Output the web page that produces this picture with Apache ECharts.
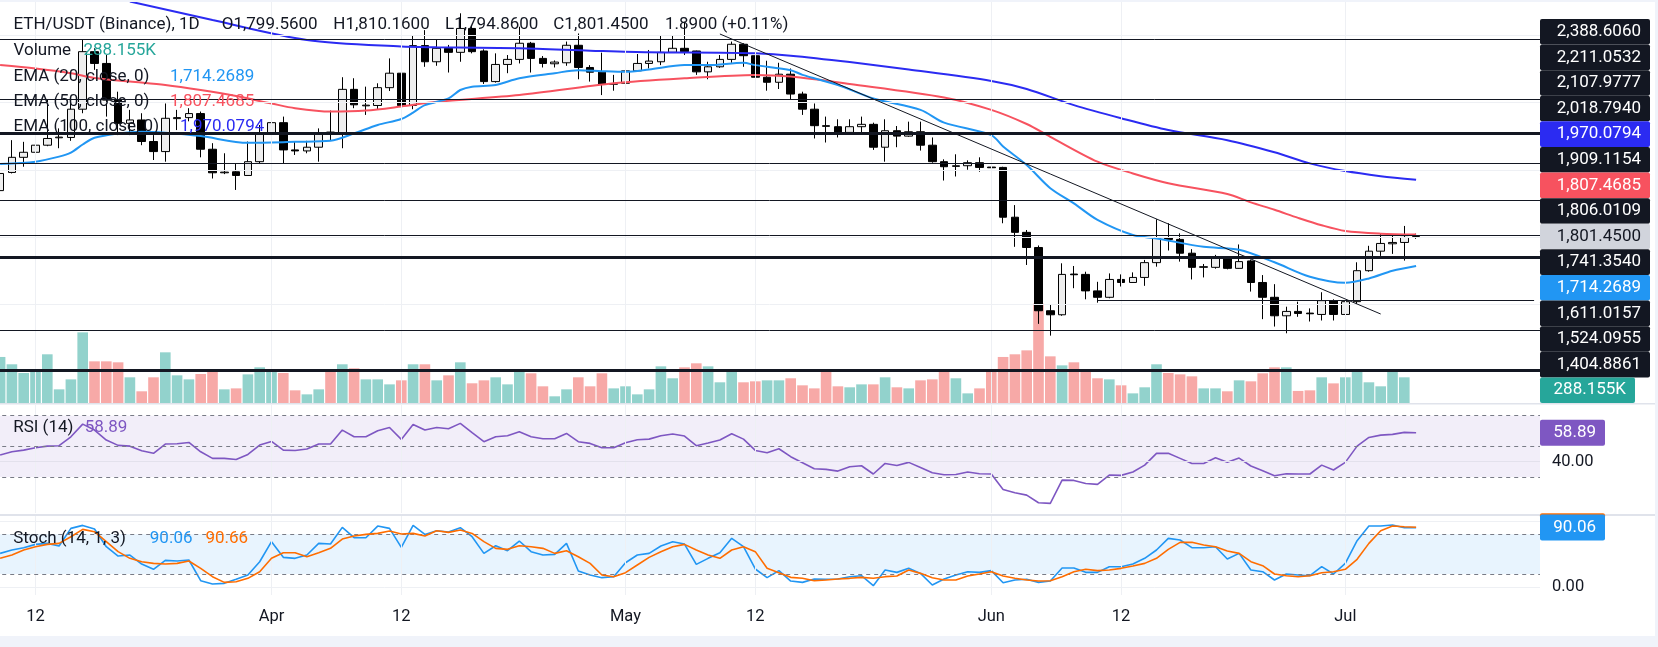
<!DOCTYPE html>
<html>
<head>
<meta charset="utf-8">
<script src="https://cdn.jsdelivr.net/npm/echarts@6/dist/echarts.min.js"></script>
<style>
  html, body { margin: 0; padding: 0; background: #ffffff; }
  #main { width: 1658px; height: 647px; }
</style>
</head>
<body>
<div id="main"></div>
<script>
// ---- data (ETH/USDT 1D, Binance) ----
var startDate = [2025, 2, 9];      // Mar 9
var categoryCount = 131;           // 121 candles + empty space on the right
var tickDates = ['2025-03-12', '2025-04-01', '2025-04-12', '2025-05-01', '2025-05-12', '2025-06-01', '2025-06-12', '2025-07-01'];
var tickTexts = ['12', 'Apr', '12', 'May', '12', 'Jun', '12', 'Jul'];

var open = [1938,1992,2037,2052,2073,2095,2096,2180,2351,2316, 2207,2138,2148,2084,2054,2152,2155,2167,2061,1991,
  1994,1983,2024,2106,2140,2059,2056,2067,2112,2108, 2239,2190,2191,2244,2287,2191,2369,2321,2361,2349,
  2420,2353,2262,2313,2328,2376,2331,2315,2318,2370, 2304,2290,2254,2257,2294,2316,2321,2349,2361,2353,
  2291,2306,2328,2373,2339,2275,2260,2284,2225,2180, 2131,2128,2111,2128,2135,2067,2116,2100,2113,2073,
  2024,2010,2012,2021,2008,2007,1859,1814,1769,1581, 1569,1690,1689,1640,1621,1674,1665,1680,1724,1797,
  1793,1752,1710,1710,1740,1707,1729,1665,1621,1566, 1579,1574,1570,1611,1570,1608,1700,1758,1780,1784,
  1799.56];
var high = [1995,2088,2083,2098,2209,2123,2207,2386,2361,2341, 2232,2178,2168,2103,2197,2178,2183,2173,2079,2049,
  2017,2084,2133,2168,2158,2084,2086,2123,2176,2275, 2272,2247,2257,2331,2292,2398,2415,2386,2371,2465,
  2430,2358,2346,2341,2425,2380,2338,2325,2381,2405, 2311,2348,2282,2326,2344,2356,2400,2400,2440,2354,
  2321,2341,2381,2376,2341,2324,2318,2301,2232,2197, 2158,2150,2150,2158,2140,2150,2130,2143,2143,2096,
  2031,2046,2028,2037,2021,2009,1895,1821,1775,1601, 1722,1714,1697,1667,1692,1689,1695,1732,1853,1841,
  1811,1764,1720,1747,1742,1778,1733,1687,1660,1593, 1608,1588,1636,1615,1646,1725,1774,1809,1809,1833,
  1810.16];
var low = [1930,1989,2009,2021,2070,2064,2086,2168,2297,2158, 2103,2103,2073,2029,2024,2118,2144,2037,1974,1987,
  1940,1983,2017,2084,2019,2044,2049,2024,2088,2064, 2183,2163,2180,2234,2180,2180,2306,2309,2289,2321,
  2346,2255,2259,2287,2316,2289,2304,2304,2309,2269, 2262,2222,2235,2256,2293,2301,2311,2347,2341,2282,
  2269,2303,2318,2306,2259,2235,2240,2209,2163,2093, 2081,2096,2106,2108,2059,2024,2067,2098,2057,2021,
  1968,1980,2000,1994,1960,1841,1771,1717,1542,1507, 1566,1648,1615,1605,1618,1653,1664,1655,1712,1760,
  1727,1674,1680,1706,1704,1706,1638,1556,1534,1514, 1563,1549,1552,1552,1554,1601,1697,1744,1750,1730,
  1794.86];
var close = [1989,2037,2052,2073,2093,2097,2180,2351,2316,2207, 2138,2148,2084,2054,2153,2155,2167,2061,1991,1993,
  1983,2024,2108,2140,2059,2056,2067,2108,2106,2239, 2193,2192,2244,2287,2191,2369,2321,2361,2349,2420,
  2351,2262,2313,2328,2376,2331,2316,2320,2370,2304, 2290,2254,2256,2294,2316,2323,2349,2361,2351,2291,
  2306,2328,2373,2339,2275,2260,2284,2225,2180,2131, 2129,2111,2128,2135,2067,2116,2100,2113,2073,2024,
  2009,2012,2021,2007,2006,1859,1814,1769,1581,1569, 1689,1688,1640,1621,1674,1665,1680,1724,1796,1793,
  1752,1710,1712,1740,1707,1727,1665,1621,1566,1579, 1573,1572,1611,1570,1608,1700,1758,1781,1784,1799,
  1801.45];

// volume in thousands, and whether the bar is drawn green (1) or red (0)
var volume = [516,434,336,377,546,153,265,792,467,467, 456,288,131,288,568,310,265,325,377,153,
  164,321,400,377,336,142,97,153,348,434, 389,265,265,209,254,434,434,254,310,456,
  221,254,288,209,355,333,187,75,153,288, 187,333,164,187,97,153,411,277,400,445,
  411,232,377,232,243,254,254,277,198,164, 366,187,176,209,209,288,176,164,254,265,
  348,277,108,164,355,516,546,590,1114,523, 422,456,355,277,265,198,108,176,434,336,
  321,299,164,164,131,254,243,333,400,400, 135,142,288,220,288,355,232,187,377,288,
  null];
var volumeUp = [1,1,1,1,1,1,1,1,0,0, 0,1,0,0,1,1,1,0,0,1, 0,1,1,1,0,0,1,1,0,1,
  0,1,1,1,0,1,0,1,0,1, 0,0,1,1,1,0,0,1,1,0, 0,0,1,1,1,1,1,1,0,0,
  1,1,1,0,0,1,1,0,0,0, 0,0,1,1,0,1,0,1,0,0, 0,1,1,0,0,0,0,0,0,0,
  1,0,0,0,1,0,1,1,1,0, 0,0,1,1,0,1,0,0,0,1, 0,0,1,0,1,1,1,1,1,1, 1];
var lastVolume = 288.155;
var lastVolumeText = '288.155K';

var ema20 = [[0,2017],[3,2024],[5,2039],[6,2051],[7,2075],[8,2095],[10,2108],[12,2113],[14,2110],[17,2100],
  [21,2080],[25,2083],[28,2086],[30,2108],[32,2133],[34,2151],[35,2170],[36,2192],[38,2212],[39,2237],
  [40,2247],[42,2252],[44,2272],[47,2287],[49,2296],[51,2293],[53,2291],[55,2298],[58,2311],[60,2311],
  [63,2318],[64,2311],[67,2296],[68,2282],[71,2252],[74,2212],[78,2178],[80,2140],[84,2103],[85,2069],
  [87,2014],[89,1945],[91,1900],[93,1851],[96,1806],[98,1796],[102,1771],[105,1762],[108,1725],[111,1682],
  [114,1664],[116,1677],[118,1700],[120,1714.2689]];
var ema50 = [[0,2311],[3,2301],[6,2287],[8,2273],[11,2262],[14,2252],[17,2237],[20,2219],[23,2197],[25,2183],
  [28,2173],[31,2176],[34,2188],[37,2202],[44,2222],[52,2257],[58,2272],[64,2282],[67,2277],
  [72,2255],[80,2215],[84,2178],[87,2136],[89,2098],[93,2024],[96,1989],[99,1960],[104,1928],[106,1903],
  [108,1881],[110,1857],[112,1835],[114,1818],[117,1810],[120,1807.4685]];
var ema100 = [[11,2500],[18,2445],[26,2386],[34,2366],[37,2364],[44,2361],[50,2354],[55,2349],[61,2348],[64,2346],[67,2339],
  [72,2320],[77,2298],[84,2264],[87,2240],[91,2192],[95,2153],[99,2118],[104,2088],[108,2052],[111,2019],
  [114,1996],[117,1981],[120,1970.0794]];

var trendLine = [[61, 2403.5], [117, 1571.3]];
var levels = [2388.6060, 2211.0532, 2107.9777, 2018.7940, 1909.1154, 1806.0109, 1741.3540, 1524.0955, 1404.8861];
var thickLevels = [2107.9777, 1741.3540, 1404.8861];
var rayLevel = 1611.0157, rayStart = 93;
var priceGrid = [1400, 1600, 1800, 2000, 2200, 2400];

var rsi = [44.3,46.4,47.5,49.1,50.1,50.4,56.2,64.5,60.6,54.1, 50.6,50.1,47.1,45.4,51.5,51.7,52.5,46.4,42.1,42.1,
  41.4,44.7,50.8,53.2,47.5,47.3,48.2,51.5,51.5,60.6, 56.2,56.2,60.2,62.3,54.5,64.3,60.6,62.3,61.5,65.0,
  58.9,53.0,56.2,56.9,59.5,56.2,54.9,54.9,58.4,53.0, 51.9,49.1,49.1,52.3,54.3,54.7,56.9,58.0,56.7,50.4,
  52.1,54.1,58.2,54.7,47.3,45.8,48.4,43.2,39.3,35.3, 34.9,33.8,36.6,37.3,31.9,38.8,37.5,39.5,36.2,32.7,
  31.4,31.6,33.2,32.1,31.9,21.8,19.6,18.1,13.1,12.7, 27.9,27.7,25.7,25.1,31.2,31.0,33.2,37.7,45.4,45.4,
  42.1,38.8,38.8,42.5,39.5,42.3,37.1,34.0,30.8,32.1, 31.9,31.9,37.7,34.5,39.5,50.1,55.8,57.3,57.8,59.1,
  58.89];
var stochK = [51.1,56.2,59.7,64.7,66.2,62.2,88.9,93.4,87.9,61.2, 47.1,48.6,35.0,27.0,40.6,39.6,41.1,9.8,4.8,5.8,
  11.9,18.4,38.5,68.8,45.1,43.6,48.6,66.2,65.2,90.4, 74.8,74.8,92.4,88.9,60.2,93.4,79.8,85.4,83.4,89.9,
  76.3,51.1,62.7,55.2,69.8,53.7,48.6,49.6,66.2,24.4, 18.4,14.4,15.9,37.0,48.6,51.1,62.2,68.8,65.2,34.5,
  43.6,52.1,73.8,61.2,27.5,14.4,25.0,9.3,7.3,12.4, 12.0,12.4,15.9,17.4,2.3,26.0,22.4,28.5,20.9,3.3,
  12.4,18.4,23.4,22.4,25.0,6.8,10.9,11.9,7.3,9.3, 29.0,29.0,22.4,22.4,31.0,31.0,35.0,43.6,56.2,73.8,
  71.3,59.7,59.7,61.2,42.6,51.1,26.0,23.4,10.9,19.9, 18.4,17.4,31.0,19.9,36.0,70.3,92.4,92.4,93.9,89.9,
  90.06];
var stochD = [43.6,48.6,56.2,61.2,64.7,66.2,76.3,87.4,83.9,68.8, 53.7,43.6,38.5,36.0,35.0,36.0,39.6,28.5,15.9,7.3,
  8.3,13.4,23.4,43.6,52.1,52.1,46.1,52.1,58.7,72.8, 77.3,79.8,81.3,84.9,80.3,81.3,77.3,85.4,82.9,86.4,
  81.3,68.8,58.7,57.2,62.7,61.2,58.7,51.1,55.2,46.1, 36.0,18.4,15.9,21.9,33.5,45.1,53.7,61.2,64.7,56.2,
  48.6,43.6,56.2,61.2,53.7,28.5,21.9,14.9,13.4,9.8, 10.9,12.4,13.4,14.9,13.4,15.9,16.9,26.0,20.9,14.4,
  10.9,10.9,16.9,19.9,23.4,16.9,13.4,10.9,9.3,9.8, 15.9,23.4,27.0,25.0,26.0,28.5,32.0,36.0,43.6,57.2,
  67.8,67.8,63.7,61.2,54.7,51.1,38.5,32.5,19.9,17.4, 15.9,17.4,21.9,23.4,27.0,42.1,66.2,85.4,92.4,91.4,
  90.66];

// ---- build ----
var dates = [];
for (var i = 0; i < categoryCount; i++) {
  var d = new Date(Date.UTC(startDate[0], startDate[1], startDate[2] + i));
  dates.push(d.toISOString().slice(0, 10));
}
var FONT = 'Roboto, "Noto Sans", sans-serif';
var TEXT = '#131722';
var GRIDC = '#eef0f4';
var UP_VOL = 'rgba(38,166,154,0.5)', DOWN_VOL = 'rgba(239,83,80,0.5)';
var C20 = '#2196f3', C50 = '#f7525f', C100 = '#2b2bf2', CRSI = '#7e57c2', CK = '#2196f3', CD = '#ff6d00';

var candleData = open.map(function (o, i) { return [o, close[i], low[i], high[i]]; });
var volData = volume.map(function (v, i) {
  return { value: v, itemStyle: { color: volumeUp[i] ? UP_VOL : DOWN_VOL } };
});

function vGrid() {
  return tickDates.map(function (t) { return { xAxis: t, lineStyle: { color: GRIDC, width: 1, type: 'solid' } }; });
}
function hLine(v, color, width, type) {
  return { yAxis: v, lineStyle: { color: color, width: width, type: type } };
}

var mainLines = []
  .concat(priceGrid.map(function (v) { return hLine(v, GRIDC, 1, 'solid'); }))
  .concat(vGrid())
  .concat(levels.map(function (v) {
    return hLine(v, '#131722', thickLevels.indexOf(v) >= 0 ? 3 : 1, 'solid');
  }));
mainLines.push([
  { coord: [rayStart, rayLevel], lineStyle: { color: '#131722', width: 1, type: 'solid' } },
  { coord: [categoryCount - 1, rayLevel] }
]);

var G = { left: -5.8, width: 1545.8 };
var option = {
  animation: false,
  backgroundColor: '#ffffff',
  grid: [
    { left: G.left, width: G.width, top: 2, height: 401, outerBoundsMode: 'none' },
    { left: G.left, width: G.width, top: 405, height: 108, outerBoundsMode: 'none' },
    { left: G.left, width: G.width, top: 516, height: 79, outerBoundsMode: 'none' }
  ],
  xAxis: [0, 1, 2].map(function (g) {
    return {
      type: 'category', gridIndex: g, data: dates, boundaryGap: true,
      axisLine: { show: false }, axisTick: { show: false }, splitLine: { show: false },
      axisLabel: g < 2 ? { show: false } : {
        show: true, margin: 13, color: TEXT, fontSize: 16.5, fontFamily: FONT,
        interval: function (idx, val) { return tickDates.indexOf(val) >= 0; },
        formatter: function (val) { var k = tickDates.indexOf(val); return k >= 0 ? tickTexts[k] : ''; }
      }
    };
  }),
  yAxis: [
    { type: 'value', gridIndex: 0, min: 1306.8, max: 2498.6, show: false },
    { type: 'value', gridIndex: 0, min: 0, max: 4495, show: false },
    { type: 'value', gridIndex: 1, min: 6.4, max: 77.0, show: false },
    { type: 'value', gridIndex: 2, min: -11.8, max: 107.6, show: false }
  ],
  series: [
    {
      name: 'levels', type: 'line', xAxisIndex: 0, yAxisIndex: 0, data: [], z: 1, silent: true,
      markLine: {
        symbol: ['none', 'none'], silent: true, animation: false, label: { show: false },
        lineStyle: { color: '#131722', width: 1, type: 'solid' },
        data: mainLines
      }
    },
    {
      name: 'Volume', type: 'bar', xAxisIndex: 0, yAxisIndex: 1, data: volData, barWidth: '90%', z: 2, silent: true
    },
    {
      name: 'ETH/USDT', type: 'candlestick', xAxisIndex: 0, yAxisIndex: 0, data: candleData, barWidth: 8, z: 3,
      itemStyle: { color: '#eeeeee', color0: '#000000', borderColor: '#000000', borderColor0: '#000000', borderWidth: 1 }
    },
    { name: 'EMA100', type: 'line', xAxisIndex: 0, yAxisIndex: 0, data: ema100, showSymbol: false, smooth: 0.3, z: 4,
      lineStyle: { color: C100, width: 2 } },
    { name: 'EMA50', type: 'line', xAxisIndex: 0, yAxisIndex: 0, data: ema50, showSymbol: false, smooth: 0.3, z: 4,
      lineStyle: { color: C50, width: 2 } },
    { name: 'EMA20', type: 'line', xAxisIndex: 0, yAxisIndex: 0, data: ema20, showSymbol: false, smooth: 0.3, z: 4,
      lineStyle: { color: C20, width: 2 } },
    { name: 'trend', type: 'line', xAxisIndex: 0, yAxisIndex: 0, data: trendLine, showSymbol: false, z: 5,
      lineStyle: { color: '#131722', width: 1 } },
    {
      name: 'RSI', type: 'line', xAxisIndex: 1, yAxisIndex: 2, data: rsi, showSymbol: false, z: 4,
      lineStyle: { color: CRSI, width: 1.6 },
      markArea: { silent: true, itemStyle: { color: 'rgba(126,87,194,0.1)' }, data: [[{ yAxis: 30 }, { yAxis: 70 }]] },
      markLine: {
        symbol: ['none', 'none'], silent: true, animation: false, label: { show: false },
        data: vGrid().concat([
          hLine(70, '#787b86', 1, [4, 4]), hLine(50, '#787b86', 1, [4, 4]), hLine(30, '#787b86', 1, [4, 4]),
          { yAxis: 40, lineStyle: { color: '#e3e1ec', width: 1, type: 'solid' },
            label: { show: true, position: 'end', distance: 12, formatter: '40.00', color: TEXT, fontSize: 16.5, fontFamily: FONT } }
        ])
      }
    },
    {
      name: '%K', type: 'line', xAxisIndex: 2, yAxisIndex: 3, data: stochK, showSymbol: false, z: 4,
      lineStyle: { color: CK, width: 1.6 },
      markArea: { silent: true, itemStyle: { color: 'rgba(33,150,243,0.1)' }, data: [[{ yAxis: 20 }, { yAxis: 80 }]] },
      markLine: {
        symbol: ['none', 'none'], silent: true, animation: false, label: { show: false },
        data: vGrid().concat([
          hLine(80, '#787b86', 1, [4, 4]), hLine(20, '#787b86', 1, [4, 4]),
          hLine(100, GRIDC, 1, 'solid'),
          { yAxis: 0, lineStyle: { color: GRIDC, width: 1, type: 'solid' },
            label: { show: true, position: 'end', distance: 12, formatter: '0.00', color: TEXT, fontSize: 16.5, fontFamily: FONT } }
        ])
      }
    },
    { name: '%D', type: 'line', xAxisIndex: 2, yAxisIndex: 3, data: stochD, showSymbol: false, z: 5,
      lineStyle: { color: CD, width: 1.6 } }
  ]
};

var chart = echarts.init(document.getElementById('main'));
chart.setOption(option);

// ---- texts, labels and frame ----
function fmt(v, d) { return v.toLocaleString('en-US', { minimumFractionDigits: d, maximumFractionDigits: d }); }
function txt(x, y, s, color, size, align) {
  return { type: 'text', x: x, y: y, z: 100, silent: true,
    style: { text: s, fill: color, font: (size || 17) + 'px ' + FONT, align: align || 'left', verticalAlign: 'middle' } };
}
function box(x, yc, w, h, bg, fg, s, r) {
  return [
    { type: 'rect', z: 100, silent: true, shape: { x: x, y: yc - h / 2, width: w, height: h, r: r || 0 }, style: { fill: bg } },
    { type: 'text', z: 101, silent: true, x: x + w - 9, y: yc,
      style: { text: s, fill: fg, font: '17px ' + FONT, align: 'right', verticalAlign: 'middle' } }
  ];
}

var last = open.length - 1;
var H = 25.6;
var tags = levels.concat([rayLevel]).map(function (v) {
  return { axis: 0, value: v, text: fmt(v, 4), bg: '#131722', fg: '#ffffff', w: 110 };
});
tags.push({ axis: 0, value: ema100[ema100.length - 1][1], text: fmt(ema100[ema100.length - 1][1], 4), bg: C100, fg: '#ffffff', w: 110 });
tags.push({ axis: 0, value: ema50[ema50.length - 1][1], text: fmt(ema50[ema50.length - 1][1], 4), bg: C50, fg: '#ffffff', w: 110 });
tags.push({ axis: 0, value: ema20[ema20.length - 1][1], text: fmt(ema20[ema20.length - 1][1], 4), bg: C20, fg: '#ffffff', w: 110 });
tags.push({ axis: 0, value: close[last], text: fmt(close[last], 4), bg: '#d1d4dc', fg: '#131722', w: 110, anchor: true });
tags.push({ axis: 1, value: lastVolume, text: lastVolumeText, bg: '#26a69a', fg: '#ffffff', w: 95 });
tags.forEach(function (t) { t.y = chart.convertToPixel({ yAxisIndex: t.axis }, t.value); });
tags.sort(function (a, b) { return a.y - b.y; });
var k = tags.findIndex(function (t) { return t.anchor; });
for (var j = k - 1; j >= 0; j--) tags[j].y = Math.min(tags[j].y, tags[j + 1].y - H);
for (j = k + 1; j < tags.length; j++) tags[j].y = Math.max(tags[j].y, tags[j - 1].y + H);
var paneBottom = 403 - H / 2;
if (tags[tags.length - 1].y > paneBottom) {
  tags[tags.length - 1].y = paneBottom;
  for (j = tags.length - 2; j > k; j--) tags[j].y = Math.min(tags[j].y, tags[j + 1].y - H);
}

var g = [
  { type: 'rect', z: 90, silent: true, shape: { x: 0, y: 403, width: 1655, height: 1.5 }, style: { fill: '#e0e3eb' } },
  { type: 'rect', z: 90, silent: true, shape: { x: 0, y: 514, width: 1655, height: 2 }, style: { fill: '#e0e3eb' } },
  { type: 'rect', z: 120, silent: true, shape: { x: 0, y: 0, width: 1658, height: 2 }, style: { fill: '#f0f3fa' } },
  { type: 'rect', z: 120, silent: true, shape: { x: 0, y: 636, width: 1658, height: 11 }, style: { fill: '#f0f3fa' } },
  { type: 'rect', z: 120, silent: true, shape: { x: 1655, y: 0, width: 3, height: 647 }, style: { fill: '#f0f3fa' } }
];
tags.forEach(function (t) { g = g.concat(box(1540, t.y, t.w, H, t.bg, t.fg, t.text, 2)); });

var yR = chart.convertToPixel({ yAxisIndex: 2 }, rsi[last]);
g = g.concat(box(1540, yR, 65, 26, CRSI, '#ffffff', fmt(rsi[last], 2), 2));
var yK = chart.convertToPixel({ yAxisIndex: 3 }, stochK[last]);
var yD = chart.convertToPixel({ yAxisIndex: 3 }, stochD[last]);
g.push({ type: 'rect', z: 99, silent: true, shape: { x: 1540, y: Math.min(yD, yK) - 14, width: 65, height: 26, r: 2 }, style: { fill: CD } });
g = g.concat(box(1540, yK, 65, 26, CK, '#ffffff', fmt(stochK[last], 2), 2));

// legend
var L = 13.5;
g.push(txt(L, 25, 'ETH/USDT (Binance), 1D', TEXT));
g.push(txt(221.7, 25, 'O' + fmt(open[last], 4), TEXT));
g.push(txt(333.3, 25, 'H' + fmt(high[last], 4), TEXT));
g.push(txt(445, 25, 'L' + fmt(low[last], 4), TEXT));
g.push(txt(553.3, 25, 'C' + fmt(close[last], 4), TEXT));
g.push(txt(665, 25, fmt(close[last] - open[last], 4) + ' (+' + fmt((close[last] - open[last]) / open[last] * 100, 2) + '%)', TEXT));
g.push(txt(L, 50.7, 'Volume', TEXT));
g.push(txt(83.5, 50.7, lastVolumeText, '#26a69a'));
g.push(txt(L, 76.7, 'EMA (20, close, 0)', TEXT));
g.push(txt(170, 76.7, fmt(ema20[ema20.length - 1][1], 4), C20));
g.push(txt(L, 101.7, 'EMA (50, close, 0)', TEXT));
g.push(txt(170, 101.7, fmt(ema50[ema50.length - 1][1], 4), C50));
g.push(txt(L, 126.7, 'EMA (100, close, 0)', TEXT));
g.push(txt(180, 126.7, fmt(ema100[ema100.length - 1][1], 4), C100));
g.push(txt(13.2, 428, 'RSI (14)', TEXT));
g.push(txt(84.7, 428, fmt(rsi[last], 2), CRSI));
g.push(txt(13.2, 538.3, 'Stoch (14, 1, 3)', TEXT));
g.push(txt(149.8, 538.3, fmt(stochK[last], 2), CK));
g.push(txt(205.4, 538.3, fmt(stochD[last], 2), CD));

chart.setOption({ graphic: g });
</script>
</body>
</html>
